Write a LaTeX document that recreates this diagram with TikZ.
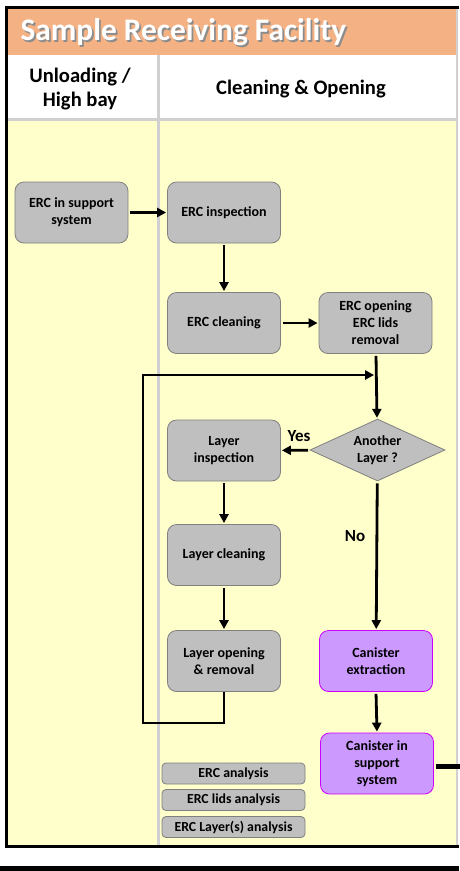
\documentclass[tikz,border=0pt]{standalone}
\usepackage{fontspec}
\setmainfont{Carlito}
\usepackage{xcolor}
\usetikzlibrary{arrows.meta,positioning,shapes.geometric}
\definecolor{titleorange}{HTML}{F4B183}
\definecolor{laneyellow}{HTML}{FFFFCC}
\definecolor{dividergray}{HTML}{D0D0D0}
\definecolor{boxgray}{HTML}{BFBFBF}
\definecolor{boxedge}{HTML}{808080}
\definecolor{canpurple}{HTML}{CC99FF}
\definecolor{canedge}{HTML}{CC00FF}
\newcommand{\shadowtitle}[1]{\makebox[0pt][l]{\hspace{1.8pt}\raisebox{-1.8pt}{\color{black!45}#1}}#1}
\tikzset{
  block/.style={draw, rounded corners=9pt, align=center, inner sep=3pt, line width=0.8pt, font=\fontsize{14}{17}\selectfont\bfseries, minimum width=113pt, minimum height=61pt},
  bgray/.style={block, fill=boxgray, draw=boxedge},
  bpurple/.style={block, fill=canpurple, draw=canedge},
  decision/.style={diamond, aspect=2.2, draw=boxedge, fill=boxgray, line width=0.8pt, align=center, inner sep=0pt, font=\fontsize{14}{17}\selectfont\bfseries, minimum width=135pt, minimum height=62pt},
  result/.style={draw=boxedge, fill=boxgray, rounded corners=4pt, line width=0.8pt, font=\fontsize{13.8}{15}\selectfont\bfseries, minimum width=143pt, minimum height=21pt, inner sep=0pt},
  lanehead/.style={align=center, font=\fontsize{20.6}{24}\selectfont\bfseries},
  branchlabel/.style={font=\fontsize{17}{20}\selectfont\bfseries},
  arrow/.style={-{Triangle[length=9pt,width=9pt]}, line width=2.8pt, shorten <=2pt, shorten >=1pt},
  flowline/.style={line width=2.8pt}
}
\begin{document}
\begin{tikzpicture}[x=1pt,y=-1pt]
  \useasboundingbox (0,0) rectangle (459,871);
  % swimlane background
  \fill[white] (0,0) rectangle (459,871);
  \fill[titleorange] (7,8) rectangle (457,55);
  \fill[laneyellow] (7,120) rectangle (457,845);
  \draw[dividergray, line width=3pt] (158,55) -- (158,845);
  \draw[dividergray, line width=3pt] (7,119) -- (457,119);
  \draw[dividergray, line width=1.5pt] (457,8) -- (457,845);
  \draw[line width=3pt] (459,7) -- (6,7) -- (6,846) -- (459,846);
  \fill[black] (0,866) rectangle (459,871);

  \node[anchor=west, text=white, font=\fontsize{31.4}{36}\selectfont\bfseries] (title) at (17,33) {\shadowtitle{Sample Receiving Facility}};
  \node[lanehead] (unloadhead) at (80,89) {Unloading /\\High bay};
  \node[lanehead] (cleanhead) at (301,89) {Cleaning \& Opening};

  % process steps
  \node[bgray] (support) at (71.5,212.5) {ERC in support\\system};
  \node[bgray] (inspect) at (224,212.5) {ERC inspection};
  \node[bgray] (ercclean) at (224,323) {ERC cleaning};
  \node[bgray] (ercopen) at (375.5,323) {ERC opening\\ERC lids\\removal};
  \node[decision] (another) at (377.5,450) {Another\\Layer ?};
  \node[bgray] (layinsp) at (224,450.5) {Layer\\inspection};
  \node[bgray] (layclean) at (224,555) {Layer cleaning};
  \node[bgray] (layopen) at (224,661) {Layer opening\\\& removal};
  \node[bpurple] (extract) at (376,661) {Canister\\extraction};
  \node[bpurple] (canister) at (377,763.5) {Canister in\\support\\system};

  \node[result] (ercanalysis) at (233.5,773.5) {ERC analysis};
  \node[result] (lidsanalysis) at (233.5,800) {ERC lids analysis};
  \node[result] (layeranalysis) at (233.5,827) {ERC Layer(s) analysis};

  \node[branchlabel] (yes) at (299,436) {Yes};
  \node[branchlabel] (no) at (355,536) {No};

  \coordinate (loopbottom) at (143,723);
  \coordinate (looptop) at (143,375);
  \coordinate (exitright) at (462,766);

  \draw[arrow] (support) -- (inspect);
  \draw[arrow] (inspect) -- (ercclean);
  \draw[arrow] (ercclean) -- (ercopen);
  \draw[arrow] (ercopen) -- (another);
  \draw[arrow] (another) -- (layinsp);
  \draw[arrow] (layinsp) -- (layclean);
  \draw[arrow] (layclean) -- (layopen);
  \draw[arrow] (another) -- (extract);
  \draw[arrow] (extract.south) -- (canister.north);
  \draw[flowline, -{Triangle[length=9pt,width=9pt]}, shorten >=1.4pt] (layopen.south) -- (layopen.south |- loopbottom) -- (loopbottom) -- (looptop) -- (ercopen.south |- looptop);
  \draw[line width=5pt, shorten <=2pt] (canister.east |- exitright) -- (exitright);
\end{tikzpicture}
\end{document}
